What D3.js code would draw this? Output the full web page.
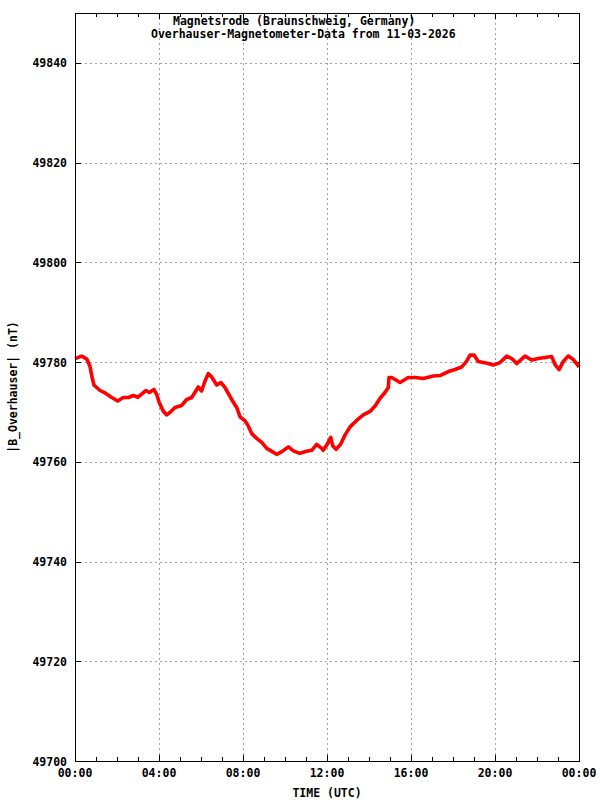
<!DOCTYPE html>
<html>
<head>
<meta charset="utf-8">
<script src="https://cdn.jsdelivr.net/npm/d3@7"></script>
<style>
  html, body { margin: 0; padding: 0; background: #fff; }
  svg { display: block; }
  text { font-family: "DejaVu Sans Mono", "Liberation Mono", monospace; font-weight: bold; font-size: 11.5px; fill: #000; }
</style>
</head>
<body>
<svg id="chart" width="600" height="800"></svg>
<script>
// ---- data (hours UTC, |B| in nT) ----
const hours = [0, 0.32, 0.56, 0.71, 0.80, 0.90, 1.19, 1.43, 1.75, 2.03, 2.30, 2.54, 2.78, 2.99,
  3.38, 3.54, 3.76, 3.89, 4.01, 4.20, 4.37, 4.52, 4.76, 5.08, 5.32, 5.56, 5.87, 6.03, 6.19, 6.35,
  6.51, 6.75, 6.95, 7.14, 7.46, 7.70, 7.86, 8.10, 8.25, 8.41, 8.65, 8.89, 9.13, 9.37, 9.60, 9.87,
  10.16, 10.40, 10.71, 11.03, 11.27, 11.51, 11.75, 11.82, 12.01, 12.18, 12.27, 12.43, 12.65, 12.86,
  13.10, 13.41, 13.73, 14.05, 14.29, 14.52, 14.76, 14.92, 14.95, 15.08, 15.48, 15.87, 16.19, 16.59,
  17.06, 17.38, 17.78, 18.10, 18.41, 18.65, 18.81, 19.01, 19.20, 19.44, 19.68, 19.92, 20.24, 20.56,
  20.80, 21.03, 21.43, 21.75, 22.06, 22.38, 22.70, 22.86, 23.05, 23.25, 23.49, 23.73, 23.94, 24.0];
const field = [49780.7, 49781.2, 49780.6, 49779.2, 49777.2, 49775.4, 49774.3, 49773.8, 49772.9, 49772.2,
  49772.9, 49772.9, 49773.3, 49772.9, 49774.3, 49773.9, 49774.5, 49773.5, 49771.9, 49770.2, 49769.4,
  49769.9, 49770.9, 49771.3, 49772.5, 49772.9, 49775.0, 49774.2, 49776.2, 49777.7, 49777.0, 49775.4,
  49775.9, 49774.9, 49772.5, 49770.9, 49769.0, 49768.2, 49767.2, 49765.7, 49764.7, 49763.9, 49762.7,
  49762.1, 49761.5, 49762.1, 49763.0, 49762.2, 49761.7, 49762.1, 49762.3, 49763.5, 49762.7, 49762.3,
  49763.5, 49764.9, 49763.2, 49762.5, 49763.5, 49765.4, 49767.0, 49768.3, 49769.4, 49770.1, 49771.2,
  49772.7, 49773.9, 49774.9, 49776.9, 49776.9, 49775.9, 49776.9, 49776.9, 49776.7, 49777.2, 49777.3,
  49778.1, 49778.5, 49779.0, 49780.2, 49781.4, 49781.4, 49780.1, 49779.9, 49779.7, 49779.4, 49779.9,
  49781.2, 49780.7, 49779.7, 49781.2, 49780.4, 49780.7, 49780.9, 49781.1, 49779.5, 49778.5, 49780.1,
  49781.2, 49780.5, 49779.4, 49779.0];
const xTicks = [0, 4, 8, 12, 16, 20, 24];
const xTickLabels = ["00:00", "04:00", "08:00", "12:00", "16:00", "20:00", "00:00"];
const xMinorTicks = d3.range(0, 25, 1);
const yTicks = [49700, 49720, 49740, 49760, 49780, 49800, 49820, 49840];
const titleLines = ["Magnetsrode (Braunschweig, Germany)", "Overhauser-Magnetometer-Data from 11-03-2026"];
const xLabel = "TIME (UTC)";
const yLabel = "|B_Overhauser| (nT)";

// ---- layout ----
const L = 75, R = 579, T = 13, B = 761;
const svg = d3.select("#chart");
const x = d3.scaleLinear().domain([0, 24]).range([L, R]);
const y = d3.scaleLinear().domain([49700, 49850]).range([B, T]);

// grid
const grid = svg.append("g").attr("stroke", "#a0a0a0").attr("stroke-width", 1).attr("stroke-dasharray", "2,3");
xTicks.slice(1, -1).forEach(t => {
  grid.append("line").attr("x1", Math.round(x(t)) + 0.5).attr("x2", Math.round(x(t)) + 0.5).attr("y1", T).attr("y2", B);
});
yTicks.slice(1).forEach(t => {
  grid.append("line").attr("y1", Math.round(y(t)) + 0.5).attr("y2", Math.round(y(t)) + 0.5).attr("x1", L).attr("x2", R);
});

// ticks
const ticks = svg.append("g").attr("stroke", "#000").attr("stroke-width", 1);
xMinorTicks.forEach(t => {
  const px = Math.round(x(t)) + 0.5;
  const len = (t % 4 === 0) ? 6 : 4;
  ticks.append("line").attr("x1", px).attr("x2", px).attr("y1", B).attr("y2", B - len);
  ticks.append("line").attr("x1", px).attr("x2", px).attr("y1", T).attr("y2", T + len);
});
yTicks.forEach(t => {
  const py = Math.round(y(t)) + 0.5;
  ticks.append("line").attr("x1", L).attr("x2", L + 6).attr("y1", py).attr("y2", py);
  ticks.append("line").attr("x1", R).attr("x2", R - 6).attr("y1", py).attr("y2", py);
});

// data line
const line = d3.line().x((d, i) => x(hours[i])).y(d => y(d));
svg.append("path").datum(field)
  .attr("d", line)
  .attr("fill", "none")
  .attr("stroke", "#ff0000")
  .attr("stroke-width", 3.6)
  .attr("stroke-linejoin", "round");

// frame
svg.append("rect").attr("x", L + 0.5).attr("y", T + 0.5).attr("width", R - L).attr("height", B - T)
  .attr("fill", "none").attr("stroke", "#000").attr("stroke-width", 1);

// tick labels
svg.append("g").selectAll("text").data(yTicks).join("text")
  .attr("x", 67).attr("y", d => y(d) + 4.5).attr("text-anchor", "end").text(d => d);
svg.append("g").selectAll("text").data(xTicks).join("text")
  .attr("x", d => x(d)).attr("y", 777).attr("text-anchor", "middle").text((d, i) => xTickLabels[i]);

// axis labels
svg.append("text").attr("x", x(12)).attr("y", 797).attr("text-anchor", "middle").text(xLabel);
svg.append("text").attr("transform", "translate(17,387) rotate(-90)").attr("text-anchor", "middle").text(yLabel);

// titles
svg.append("text").attr("x", 173).attr("y", 25).text(titleLines[0]);
svg.append("text").attr("x", 151).attr("y", 38).text(titleLines[1]);
</script>
</body>
</html>
